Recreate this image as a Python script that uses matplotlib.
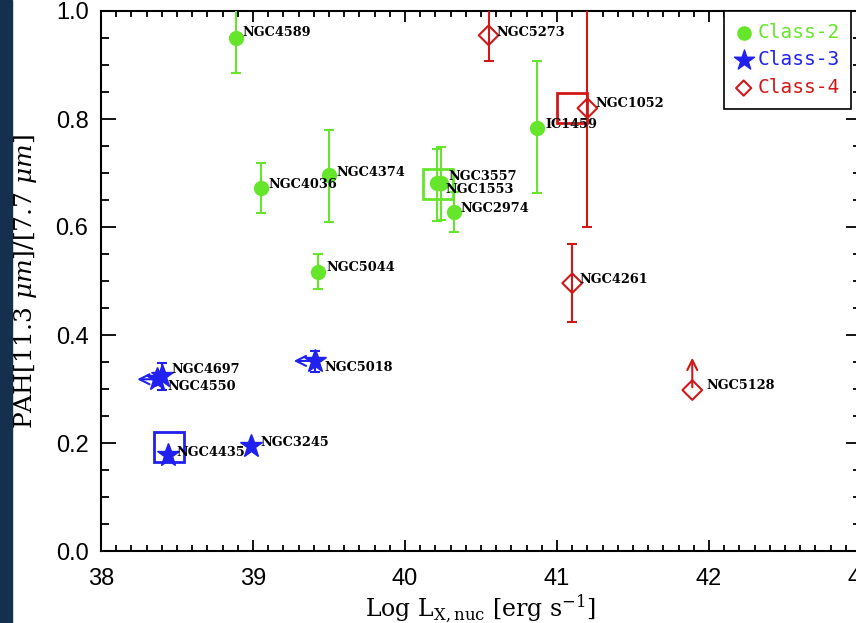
import matplotlib
matplotlib.use("Agg")
import matplotlib.pyplot as plt
from matplotlib.patches import Rectangle
from matplotlib.ticker import MultipleLocator, FormatStrFormatter

plt.rcParams["mathtext.fontset"] = "dejavuserif"

GREEN = "#66e62a"
BLUE = "#2020f0"
RED = "#d01818"

# Class-2
names2 = ["NGC4589", "NGC4036", "NGC4374", "NGC5044", "NGC3557", "NGC1553", "NGC2974", "IC1459"]
x2 = [38.89, 39.05, 39.50, 39.43, 40.24, 40.21, 40.32, 40.87]
y2 = [0.950, 0.672, 0.696, 0.517, 0.681, 0.681, 0.628, 0.784]
lo2 = [0.885, 0.626, 0.609, 0.485, 0.613, 0.612, 0.591, 0.663]
hi2 = [1.030, 0.718, 0.780, 0.550, 0.748, 0.745, 0.665, 0.907]

# Class-3 (None = no error bar)
names3 = ["NGC4697", "NGC4550", "NGC5018", "NGC3245", "NGC4435"]
x3 = [38.40, 38.37, 39.41, 38.99, 38.44]
y3 = [0.325, 0.318, 0.352, 0.195, 0.178]
lo3 = [0.298, None, 0.331, None, None]
hi3 = [0.348, None, 0.370, None, None]
# x upper limits (arrow tip)
xlim_names3 = ["NGC4550", "NGC5018"]
xlim_tips3 = [38.22, 39.25]

# Class-4
names4 = ["NGC5273", "NGC1052", "NGC4261", "NGC5128"]
x4 = [40.55, 41.20, 41.10, 41.89]
y4 = [0.955, 0.820, 0.496, 0.298]
lo4 = [0.907, 0.600, 0.424, None]
hi4 = [1.030, 1.030, 0.568, None]
# y lower limit (arrow tip)
ylim_names4 = ["NGC5128"]
ylim_tips4 = [0.363]

# highlighted objects (boxes)
box_x = [40.22, 38.446, 41.097]
box_y = [0.680, 0.192, 0.821]
box_c = [GREEN, BLUE, RED]

# label offsets in pixels
offs = {
    "NGC4589": (6, 6), "NGC4036": (8, 4), "NGC4374": (7, 3), "NGC5044": (8, 4),
    "NGC3557": (7, 7), "NGC1553": (9, -6), "NGC2974": (7, 3), "IC1459": (8, 3),
    "NGC4697": (10, 6), "NGC4550": (10, -7), "NGC5018": (9, -7), "NGC3245": (9, 3),
    "NGC4435": (9, 2), "NGC5273": (8, 3), "NGC1052": (8, 5), "NGC4261": (7, 4),
    "NGC5128": (14, 5),
}

fig = plt.figure(figsize=(8.56, 6.23), dpi=100)
fig.add_artist(Rectangle((0, 0), 12 / 856, 1, transform=fig.transFigure,
                         color="#15304f", zorder=0))
ax = fig.add_axes([101 / 856, 72 / 623, 760 / 856, 540 / 623])


def draw_err(xs, ys, lo, hi, color):
    idx = [i for i in range(len(xs)) if lo[i] is not None]
    ex = [xs[i] for i in idx]
    ey = [ys[i] for i in idx]
    yerr = [[ys[i] - lo[i] for i in idx], [hi[i] - ys[i] for i in idx]]
    ax.errorbar(ex, ey, yerr=yerr, fmt="none", ecolor=color, elinewidth=1.5,
                capsize=3.5, capthick=1.5, zorder=3)


draw_err(x2, y2, lo2, hi2, GREEN)
draw_err(x3, y3, lo3, hi3, BLUE)
draw_err(x4, y4, lo4, hi4, RED)
ax.plot(x2, y2, "o", color=GREEN, ms=10, zorder=4)
ax.plot(x3, y3, "*", color=BLUE, ms=17, zorder=4)
ax.scatter(x4, y4, marker="D", s=100, facecolors="none", edgecolors=RED,
           linewidths=1.5, zorder=4)

for n, tip in zip(xlim_names3, xlim_tips3):
    i = names3.index(n)
    ax.annotate("", xy=(tip, y3[i]), xytext=(x3[i], y3[i]),
                arrowprops=dict(arrowstyle="->", color=BLUE, lw=1.5,
                                mutation_scale=18), zorder=2)
for n, tip in zip(ylim_names4, ylim_tips4):
    i = names4.index(n)
    ax.annotate("", xy=(x4[i], tip), xytext=(x4[i], y4[i]),
                arrowprops=dict(arrowstyle="->", color=RED, lw=1.5,
                                mutation_scale=18), zorder=2)

for bx, by, bc in zip(box_x, box_y, box_c):
    ax.plot(bx, by, marker="s", ms=21.5, mfc="none", mec=bc, mew=2, zorder=2)

for names, xs, ys in [(names2, x2, y2), (names3, x3, y3), (names4, x4, y4)]:
    for n, x, y in zip(names, xs, ys):
        ax.annotate(n, (x, y), xytext=offs[n], textcoords="offset pixels",
                    ha="left", va="center", fontsize=9.3, fontweight="bold",
                    family="DejaVu Serif", color="black", zorder=5)

ax.set_xlim(38, 43)
ax.set_ylim(0, 1.0)
ax.xaxis.set_major_locator(MultipleLocator(1))
ax.xaxis.set_minor_locator(MultipleLocator(0.1))
ax.yaxis.set_major_locator(MultipleLocator(0.2))
ax.yaxis.set_minor_locator(MultipleLocator(0.05))
ax.yaxis.set_major_formatter(FormatStrFormatter("%.1f"))
ax.tick_params(which="both", direction="in", top=True, right=True, width=1.3,
               labelsize=17)
ax.tick_params(axis="x", which="major", length=8, pad=12)
ax.tick_params(axis="x", which="minor", length=4)
ax.tick_params(axis="y", which="major", length=11, pad=9)
ax.tick_params(axis="y", which="minor", length=6)
for lab in ax.get_xticklabels() + ax.get_yticklabels():
    lab.set_family("Liberation Sans")
for s in ax.spines.values():
    s.set_linewidth(1.5)

ax.set_xlabel(r"Log L$_{\rm X,nuc}$ [erg s$^{-1}$]", family="DejaVu Serif",
              fontsize=17, labelpad=2)
ax.set_ylabel(r"PAH[11.3 $\mu m$]/[7.7 $\mu m$]", family="DejaVu Serif",
              fontsize=18, labelpad=12)

h2 = ax.scatter([], [], marker="o", s=90, color=GREEN)
h3 = ax.scatter([], [], marker="*", s=230, color=BLUE)
h4 = ax.scatter([], [], marker="D", s=60, facecolors="none", edgecolors=RED, linewidths=1.5)
leg = ax.legend([h2, h3, h4], ["Class-2", "Class-3", "Class-4"], loc="upper left",
                bbox_to_anchor=(0.82, 1.0), borderaxespad=0, fancybox=False,
                framealpha=1, edgecolor="black", handletextpad=0.3,
                prop={"family": "DejaVu Sans Mono", "size": 14},
                labelspacing=0.45, handlelength=0.8, borderpad=0.6)
leg.get_frame().set_linewidth(1.2)
for t, c in zip(leg.get_texts(), [GREEN, BLUE, RED]):
    t.set_color(c)

fig.savefig("out.png", dpi=100)
